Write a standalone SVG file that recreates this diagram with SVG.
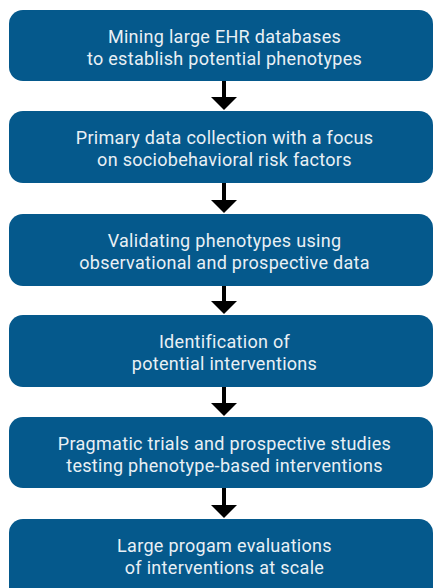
<svg xmlns="http://www.w3.org/2000/svg" width="434" height="588" viewBox="0 0 434 588">
<defs>
<style>
.box{fill:#05598c;}
.t{font-family:Roboto,"Liberation Sans",sans-serif;font-size:18px;letter-spacing:0.3px;fill:#e9f0f5;text-anchor:middle;}
.shaft{stroke:#000;stroke-width:4;}
.head{fill:#000;}
</style>
</defs>
<rect width="434" height="588" fill="#fff"/>
<g id="connectors">
<line class="shaft" x1="224" y1="81" x2="224" y2="98"/><polygon class="head" points="211,97 237,97 224,110"/>
<line class="shaft" x1="224" y1="183" x2="224" y2="201"/><polygon class="head" points="211,200 237,200 224,213"/>
<line class="shaft" x1="224" y1="286" x2="224" y2="302"/><polygon class="head" points="211,301 237,301 224,314"/>
<line class="shaft" x1="224" y1="387" x2="224" y2="404"/><polygon class="head" points="211,403 237,403 224,416"/>
<line class="shaft" x1="224" y1="488" x2="224" y2="506"/><polygon class="head" points="211,505 237,505 224,518"/>
</g>
<g id="n1"><rect class="box" x="9" y="10" width="424" height="71" rx="14"/><text class="t" x="224.5" y="43">Mining large EHR databases</text><text class="t" x="224.5" y="65">to establish potential phenotypes</text></g>
<g id="n2"><rect class="box" x="9" y="111" width="424" height="72" rx="14"/><text class="t" x="224.5" y="144">Primary data collection with a focus</text><text class="t" x="224.5" y="166">on sociobehavioral risk factors</text></g>
<g id="n3"><rect class="box" x="9" y="214" width="424" height="72" rx="14"/><text class="t" x="224.5" y="247">Validating phenotypes using</text><text class="t" x="224.5" y="269">observational and prospective data</text></g>
<g id="n4"><rect class="box" x="9" y="315" width="424" height="72" rx="14"/><text class="t" x="224.5" y="348">Identification of</text><text class="t" x="224.5" y="370">potential interventions</text></g>
<g id="n5"><rect class="box" x="9" y="417" width="424" height="71" rx="14"/><text class="t" x="224.5" y="450">Pragmatic trials and prospective studies</text><text class="t" x="224.5" y="472">testing phenotype-based interventions</text></g>
<g id="n6"><rect class="box" x="9" y="519" width="424" height="85" rx="14"/><text class="t" x="224.5" y="552">Large progam evaluations</text><text class="t" x="224.5" y="574">of interventions at scale</text></g>
</svg>
